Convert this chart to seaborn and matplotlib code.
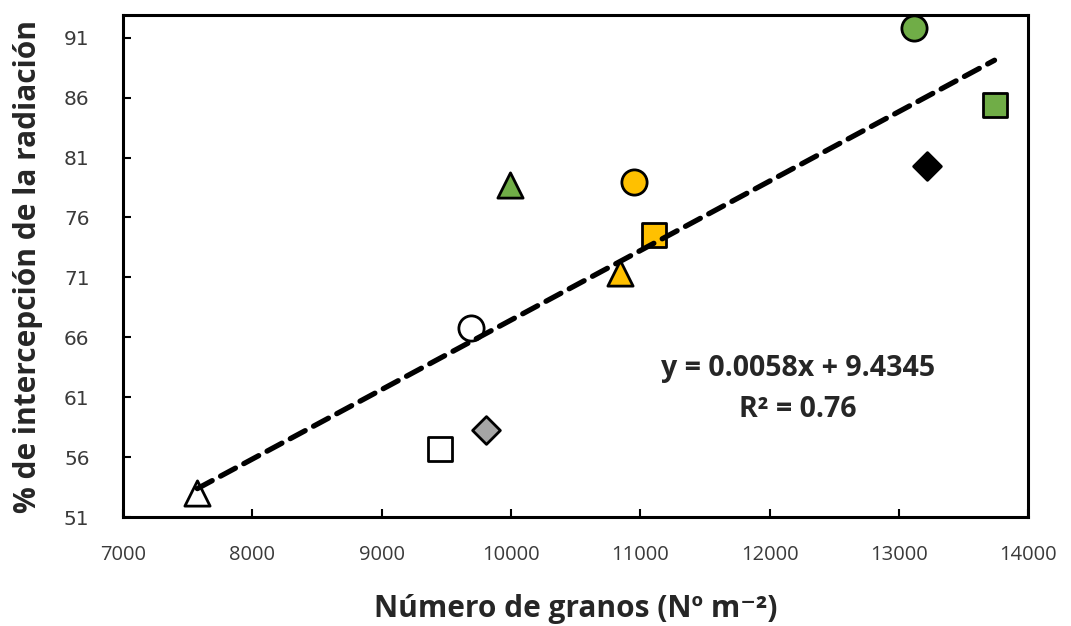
import matplotlib
matplotlib.use("Agg")
import matplotlib.pyplot as plt
import seaborn as sns
import pandas as pd

# Data
labels = ["G-circle", "G-square", "K-diamond", "G-triangle", "O-circle", "O-square",
          "O-triangle", "W-circle", "Gy-diamond", "W-square", "W-triangle"]
granos = [13120, 13740, 13220, 9990, 10950, 11105, 10840, 9690, 9805, 9455, 7575]
intercepcion = [91.8, 85.4, 80.3, 78.7, 79.0, 74.5, 71.4, 66.8, 58.3, 56.7, 53.0]
marker_shapes = ["o", "s", "D", "^", "o", "s", "^", "o", "D", "s", "^"]
fill_colors = ["#70AD47", "#70AD47", "#000000", "#70AD47", "#FFC000", "#FFC000",
               "#FFC000", "#FFFFFF", "#A5A5A5", "#FFFFFF", "#FFFFFF"]
slope, intercept = 0.0058, 9.4345
x_ticks = [7000, 8000, 9000, 10000, 11000, 12000, 13000, 14000]
y_ticks = [51, 56, 61, 66, 71, 76, 81, 86, 91]

sns.set_theme(style="white")
plt.rcParams['font.family'] = ['Open Sans', 'DejaVu Sans']

df = pd.DataFrame({"label": labels, "x": granos, "y": intercepcion})

fig = plt.figure(figsize=(10.71, 6.26), dpi=100)
ax = fig.add_axes([0.1148, 0.1741, 0.8452, 0.8019])

# trend line
xl = [min(granos), max(granos)]
line_df = pd.DataFrame({"x": xl, "y": [slope * v + intercept for v in xl]})

sizes = {"o": 330, "s": 300, "D": 200, "^": 330}
for lab, mk, fc in zip(labels, marker_shapes, fill_colors):
    sub = df[df.label == lab]
    sns.scatterplot(data=sub, x="x", y="y", marker=mk, s=sizes[mk], color=fc,
                    edgecolor="black", linewidth=2.0, ax=ax, zorder=3, legend=False)

sns.lineplot(data=line_df, x="x", y="y", ax=ax, color="black", linewidth=3.8,
             linestyle=(0, (3.2, 1.8)), dash_capstyle="round", zorder=4)

ax.set_xlim(7000, 14000)
ax.set_ylim(51, 92.9)
ax.set_xticks(x_ticks)
ax.set_yticks(y_ticks)
ax.set_xticklabels([str(v) for v in x_ticks], fontsize=14.5, color="#3a3a3a",
                   family=['Liberation Sans Narrow', 'Open Sans', 'DejaVu Sans'])
ax.set_yticklabels([str(v) for v in y_ticks], fontsize=14.5, color="#3a3a3a",
                   family=['DejaVu Sans'])
ax.tick_params(axis="both", direction="in", length=6, width=1.5, color="black",
               bottom=True, left=True)
ax.tick_params(axis="x", pad=20)
ax.tick_params(axis="y", pad=24)

for sp in ax.spines.values():
    sp.set_color("black")
    sp.set_linewidth(2.2)

ax.set_xlabel("Número de granos (Nº m⁻²)", fontsize=21.5, fontweight="bold",
              labelpad=21, color="#262626")
ax.set_ylabel("% de intercepción de la radiación", fontsize=21.5, fontweight="bold",
              labelpad=15, color="#262626")

ax.text(12220, 61.7, "y = 0.0058x + 9.4345\nR² = 0.76", ha="center", va="center",
        fontsize=20.5, fontweight="bold", color="#262626", linespacing=1.55)

fig.savefig("out.png", dpi=100)
